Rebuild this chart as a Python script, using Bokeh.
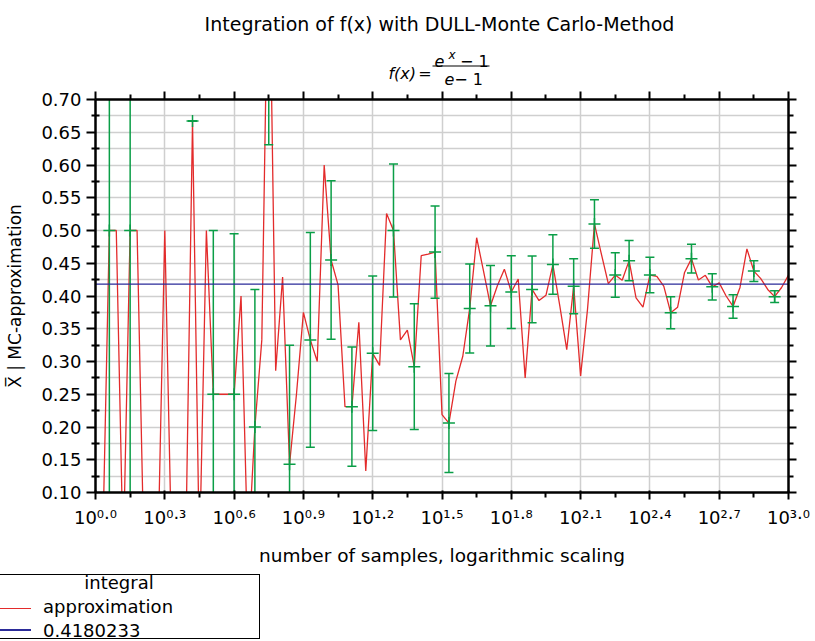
from bokeh.plotting import figure
from bokeh.layouts import column
from bokeh.models import (FixedTicker, LinearAxis, Grid, Div,
                          CustomJSTickFormatter, PrintfTickFormatter, Range1d,
                          ColumnDataSource)
from bokeh.core.properties import value
from bokeh.embed import file_html
from bokeh.resources import INLINE

# ---------------- data ----------------
# log10 of the number of samples
log10_samples = [
    0.00, 0.03, 0.06, 0.09, 0.12, 0.15, 0.18, 0.21, 0.24, 0.27,
    0.30, 0.33, 0.36, 0.39, 0.42, 0.45, 0.48, 0.51, 0.54, 0.57,
    0.60, 0.63, 0.66, 0.69, 0.72, 0.75, 0.78, 0.81, 0.84, 0.87,
    0.90, 0.93, 0.96, 0.99, 1.02, 1.05, 1.08, 1.11, 1.14, 1.17,
    1.20, 1.23, 1.26, 1.29, 1.32, 1.35, 1.38, 1.41, 1.44, 1.47,
    1.50, 1.53, 1.56, 1.59, 1.62, 1.65, 1.68, 1.71, 1.74, 1.77,
    1.80, 1.83, 1.86, 1.89, 1.92, 1.95, 1.98, 2.01, 2.04, 2.07,
    2.10, 2.13, 2.16, 2.19, 2.22, 2.25, 2.28, 2.31, 2.34, 2.37,
    2.40, 2.43, 2.46, 2.49, 2.52, 2.55, 2.58, 2.61, 2.64, 2.67,
    2.70, 2.73, 2.76, 2.79, 2.82, 2.85, 2.88, 2.91, 2.94, 2.97,
    3.00,
]

# MC approximation of the integral
approximation = [
    0.0, 0.0, 0.5, 0.5, 0.0, 0.5, 0.5, 0.0, 0.0, 0.0,
    0.5, 0.0, 0.0, 0.0, 0.667, 0.0, 0.5, 0.25, 0.25, 0.25,
    0.25, 0.40, 0.0, 0.20, 0.333, 1.0, 0.286, 0.429, 0.143, 0.25,
    0.375, 0.333, 0.30, 0.60, 0.455, 0.417, 0.231, 0.231, 0.36, 0.133,
    0.3125, 0.294, 0.526, 0.50, 0.333, 0.348, 0.292, 0.4615, 0.464, 0.467,
    0.219, 0.206, 0.270, 0.308, 0.381, 0.489, 0.4375, 0.385, 0.416, 0.441,
    0.406, 0.426, 0.275, 0.410, 0.393, 0.401, 0.448, 0.385, 0.318, 0.415,
    0.278, 0.38, 0.510, 0.464, 0.419, 0.432, 0.424, 0.454, 0.397, 0.383,
    0.432, 0.430, 0.415, 0.3745, 0.383, 0.436, 0.457, 0.4245, 0.4316, 0.414,
    0.420, 0.40, 0.384, 0.413, 0.472, 0.438, 0.4265, 0.410, 0.399, 0.413,
    0.432,
]

# error bars: index into the series and half width
errbar_index = [2, 5, 8, 11, 14, 17, 20, 23, 25, 28,
                31, 34, 37, 40, 43, 46, 49, 51, 54, 57,
                60, 63, 66, 69, 72, 75, 77, 80, 83, 86,
                89, 92, 95, 98]
errbar_halfwidth = [0.5, 0.5, 0.0, 0.0, 0.0, 0.25, 0.245, 0.21, 0.369, 0.182,
                    0.164, 0.121, 0.091, 0.118, 0.1015, 0.096, 0.0705, 0.0755, 0.068, 0.0615,
                    0.0556, 0.051, 0.0455, 0.042, 0.037, 0.034, 0.0306, 0.027, 0.0245, 0.022,
                    0.020, 0.018, 0.016, 0.009]

integral_value = 0.4180233
legend_title = "integral"
legend_labels = ["approximation", "0.4180233"]

x_major_ticks = [0.0, 0.3, 0.6, 0.9, 1.2, 1.5, 1.8, 2.1, 2.4, 2.7, 3.0]
x_tick_exponents = ["0.0", "0.3", "0.6", "0.9", "1.2", "1.5", "1.8", "2.1", "2.4", "2.7", "3.0"]
x_minor_ticks = [0.15, 0.45, 0.75, 1.05, 1.35, 1.65, 1.95, 2.25, 2.55, 2.85]
y_major_ticks = [0.10, 0.15, 0.20, 0.25, 0.30, 0.35, 0.40, 0.45, 0.50, 0.55, 0.60, 0.65, 0.70]
y_minor_ticks = [0.125, 0.175, 0.225, 0.275, 0.325, 0.375, 0.425, 0.475, 0.525, 0.575, 0.625, 0.675]

title_text = "Integration of f(x) with DULL-Monte Carlo-Method"
x_label = "number of samples, logarithmic scaling"
y_label = "X\u0305 | MC-approximation"

# ---------------- styles ----------------
FONT = "DejaVu Sans"
RED = "#e32b2b"
BLUE = "#2b2b99"
GREEN = "#0a9e47"
GRID = "#cfcfcf"
W = 813
H_HEAD, H_MAIN, H_FOOT = 88, 480, 72
BL, BR = 95, 25  # left / right border around the plot frame

# ---------------- heading (title + formula), frame aligned with the plot frame ----------------
head = figure(width=W, height=H_HEAD, x_range=Range1d(BL, W - BR), y_range=Range1d(0, H_HEAD),
              x_axis_type=None, y_axis_type=None, title=None,
              min_border_left=BL, min_border_right=BR, min_border_top=0, min_border_bottom=0,
              output_backend="svg", toolbar_location=None)
head.outline_line_color = None
head_src = ColumnDataSource(dict(
    x=[439, 415.5, 424.5, 434, 448, 459.5, 444, 453.8],
    y=[64.7, 15.5, 15.5, 27.5, 34, 27.5, 9.5, 9.5],
    text=[title_text, "f(x)", "=", "e", "x", "\u2212 1", "e", " \u2212 1"],
    size=["19px", "16px", "16px", "16px", "12px", "16px", "16px", "16px"],
    style=["normal", "italic", "normal", "italic", "italic", "normal", "italic", "normal"],
    align=["center", "right", "center", "left", "left", "left", "left", "left"],
))
head.text(x="x", y="y", text="text", source=head_src, text_font=value(FONT),
          text_font_size="size", text_font_style="style", text_align="align",
          text_baseline="alphabetic", text_color="black")
head.segment(x0=[432], y0=[22.5], x1=[489], y1=[22.5], line_color="black", line_width=1.2)

# ---------------- main plot ----------------
p = figure(width=W, height=H_MAIN,
           min_border_left=BL, min_border_right=BR, min_border_top=11, min_border_bottom=76,
           x_range=Range1d(0, 3), y_range=Range1d(0.1, 0.7),
           x_axis_type=None, y_axis_type=None, title=None,
           output_backend="svg", toolbar_location=None)
p.outline_line_color = None

xt = FixedTicker(ticks=x_major_ticks, minor_ticks=x_minor_ticks)
yt = FixedTicker(ticks=y_major_ticks, minor_ticks=y_minor_ticks)

p.add_layout(Grid(dimension=0, ticker=xt, grid_line_color=GRID, grid_line_width=1.5))
p.add_layout(Grid(dimension=1, ticker=yt, grid_line_color=GRID, grid_line_width=1.5,
                  minor_grid_line_color=GRID, minor_grid_line_width=1.5))


def style_axis(ax, mj_out, mj_in, mn_out, mn_in):
    ax.axis_line_width = 2.5
    ax.axis_line_color = "black"
    ax.major_tick_line_width = 2
    ax.minor_tick_line_width = 2
    ax.major_tick_line_color = "black"
    ax.minor_tick_line_color = "black"
    ax.major_tick_out = mj_out
    ax.major_tick_in = mj_in
    ax.minor_tick_out = mn_out
    ax.minor_tick_in = mn_in


def blank_axis(ax):
    ax.formatter = CustomJSTickFormatter(code="return ''")
    ax.major_label_text_font_size = "0px"
    ax.major_label_standoff = 0


SUP = {"0": "\u2070", "1": "\u00b9", "2": "\u00b2", "3": "\u00b3", "4": "\u2074",
       "5": "\u2075", "6": "\u2076", "7": "\u2077", "8": "\u2078", "9": "\u2079", ".": "\u00b7"}

bottom = LinearAxis(ticker=xt, formatter=CustomJSTickFormatter(code="return ''"))
style_axis(bottom, 7, 2, 5, 0)
bottom.major_label_overrides = {t: "10" + "".join(SUP[c] for c in e)
                                for t, e in zip(x_major_ticks, x_tick_exponents)}
bottom.major_label_text_font = FONT
bottom.major_label_text_font_size = "18px"
bottom.major_label_text_color = "black"
bottom.major_label_standoff = 7
bottom.axis_label = x_label
bottom.axis_label_text_font = FONT
bottom.axis_label_text_font_size = "18.5px"
bottom.axis_label_text_font_style = "normal"
bottom.axis_label_text_color = "black"
bottom.axis_label_standoff = 14

top = LinearAxis(ticker=xt)
style_axis(top, 8, 0, 5, 0)
blank_axis(top)

left = LinearAxis(ticker=yt, formatter=PrintfTickFormatter(format="%.2f"))
style_axis(left, 9, 0, 4, 4)
left.major_label_text_font = FONT
left.major_label_text_font_size = "18px"
left.major_label_text_color = "black"
left.major_label_standoff = 5
left.axis_label = y_label
left.axis_label_text_font = FONT
left.axis_label_text_font_size = "17px"
left.axis_label_text_font_style = "normal"
left.axis_label_text_color = "black"
left.axis_label_standoff = 13

right = LinearAxis(ticker=yt)
style_axis(right, 8, 0, 5, 0)
blank_axis(right)

p.add_layout(bottom, "below")
p.add_layout(top, "above")
p.add_layout(left, "left")
p.add_layout(right, "right")

# ---------------- data marks ----------------
red = p.line(log10_samples, approximation, line_color=RED, line_width=1.3)

eb_x = [log10_samples[i] for i in errbar_index]
eb_y = [approximation[i] for i in errbar_index]
eb_lo = [y - e for y, e in zip(eb_y, errbar_halfwidth)]
eb_hi = [y + e for y, e in zip(eb_y, errbar_halfwidth)]
eb = ColumnDataSource(dict(x=eb_x, y=eb_y, lo=eb_lo, hi=eb_hi))
p.segment(x0="x", y0="lo", x1="x", y1="hi", source=eb, line_color=GREEN, line_width=1.5)
p.scatter(x="x", y="lo", source=eb, marker="dash", size=9, line_color=GREEN, line_width=1.5)
p.scatter(x="x", y="hi", source=eb, marker="dash", size=9, line_color=GREEN, line_width=1.5)
p.scatter(x="x", y="y", source=eb, marker="cross", size=12, line_color=GREEN, line_width=1.5)

blue = p.line(log10_samples, [integral_value] * len(log10_samples), line_color=BLUE, line_width=1.3)

# ---------------- legend strip under the plot ----------------
legend_html = f"""
<div style="position:relative;width:{W}px;height:{H_FOOT}px;overflow:hidden;font-family:'{FONT}';font-size:18px;line-height:21px;color:black;">
 <div style="position:absolute;left:-14px;top:6px;width:274px;height:65px;border:1px solid black;box-sizing:border-box;background:white;"></div>
 <div style="position:absolute;left:119px;top:3.6px;transform:translateX(-50%);white-space:nowrap;">{legend_title}</div>
 <div style="position:absolute;left:-14px;top:39.5px;width:45px;height:1.6px;background:{RED};"></div>
 <div style="position:absolute;left:43px;top:28px;white-space:nowrap;">{legend_labels[0]}</div>
 <div style="position:absolute;left:-14px;top:61.2px;width:45px;height:1.6px;background:{BLUE};"></div>
 <div style="position:absolute;left:43px;top:52px;white-space:nowrap;">{legend_labels[1]}</div>
</div>"""
foot = Div(text=legend_html, width=W, height=H_FOOT, margin=0)

open("out.html", "w").write(file_html(column(head, p, foot, spacing=0), INLINE))
